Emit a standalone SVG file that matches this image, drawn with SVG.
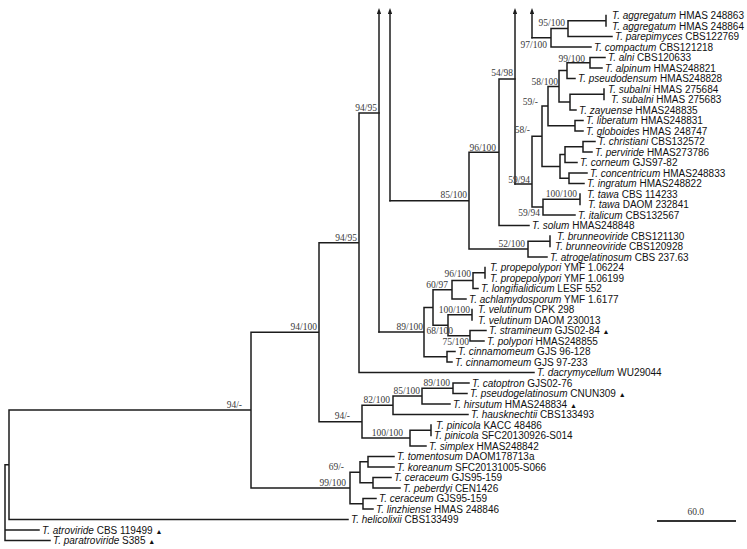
<svg xmlns="http://www.w3.org/2000/svg" width="747" height="549" viewBox="0 0 747 549">
<style>
.br{fill:none;stroke:#1c1c1c;stroke-width:1.5;stroke-linecap:square}
.lf{font-family:"Liberation Sans",Arial,sans-serif;font-size:10px;fill:#111}
.i{font-style:italic}
.tri{font-size:7px}
.bs{font-family:"Liberation Serif","Times New Roman",serif;font-size:9.5px;fill:#3a3a3a;text-anchor:end}
</style>
<defs>
<marker id="arr" viewBox="0 0 6 4.4" refX="2" refY="2.2" markerWidth="6" markerHeight="4.4" markerUnits="userSpaceOnUse" orient="auto">
<path d="M0,0 L6,2.2 L0,4.4 z" fill="#1c1c1c"/>
</marker>
</defs>
<rect width="747" height="549" fill="#fff"/>
<g id="connectors">
<path class="br" d="M5,464.8 V540.5 M5,464.8 H9 M5,530 H39 M5,540.5 H50
M9,410.1 V519.5 M9,410.1 H251 M9,519.5 H348
M251,332.3 V488 M251,332.3 H319 M251,488 H350
M350,472.25 V503.75 M350,472.25 H360 M350,503.75 H363
M360,461.75 V482.75 M360,461.75 H368 M360,482.75 H373
M368,456.5 V467 M368,456.5 H394 M368,467 H394
M373,477.5 V488 M373,477.5 H391 M373,488 H400
M363,498.5 V509 M363,498.5 H376 M363,509 H373
M319,242.75 V421.7 M319,242.75 H359 M319,421.7 H362
M362,405.3 V438.1 M362,405.3 H393 M362,438.1 H410
M393,396.1 V414.5 M393,396.1 H422 M393,414.5 H468
M422,388.25 V404 M422,388.25 H453 M422,404 H450
M453,383 V393.5 M453,383 H469 M453,393.5 H467
M410,430.25 V446 M410,430.25 H431 M431,425 V435.5 M410,446 H426
M359,113 V372.5 M359,113 H379 M359,372.5 H534
M379,332.1 H424
M424,307.5 V356.75 M424,307.5 H433 M424,356.75 H447
M447,351.5 V362 M447,351.5 H455 M447,362 H452
M433,289.8 V325.25 M433,289.8 H452 M433,325.25 H448
M452,280.6 V299 M452,280.6 H473 M452,299 H466
M473,272.75 V288.5 M473,272.75 H485 M485,267.5 V278 M473,288.5 H478
M448,314.75 V335.75 M448,314.75 H472 M472,309.5 V320 M448,335.75 H470
M470,330.5 V341 M470,330.5 H486 M470,341 H484
M390,200.7 H469
M469,152.25 V249.1 M469,152.25 H499 M469,249.1 H528
M528,241.25 V257 M528,241.25 H550 M550,236 V246.5 M528,257 H547
M499,79 V225.5 M499,79 H515 M499,225.5 H529
M515,184 H532
M532,136.25 V207.1 M532,136.25 H542 M532,207.1 H543
M543,199.25 V215 M543,199.25 H580 M580,194 V204.5 M543,215 H575
M542,106.1 V166.4 M542,106.1 H548 M542,166.4 H560
M560,154.6 V178.25 M560,154.6 H565 M560,178.25 H569
M565,146.75 V162.5 M565,146.75 H583 M565,162.5 H577
M583,141.5 V152 M583,141.5 H595 M583,152 H592
M569,173 V183.5 M569,173 H587 M569,183.5 H584
M548,86.4 V125.75 M548,86.4 H559 M548,125.75 H575
M575,120.5 V131 M575,120.5 H583 M575,131 H583
M559,70.6 V102.1 M559,70.6 H567 M559,102.1 H570
M567,62.75 V78.5 M567,62.75 H590 M567,78.5 H575
M590,57.5 V68 M590,57.5 H605 M590,68 H602
M570,94.25 V110 M570,94.25 H604 M604,89 V99.5 M570,110 H576
M532,37.8 H551
M551,28.6 V47 M551,28.6 H568 M551,47 H591
M568,20.75 V36.5 M568,20.75 H606 M606,15.5 V26 M568,36.5 H612"/>
<path class="br" marker-end="url(#arr)" d="M379,332.1 V12"/>
<path class="br" marker-end="url(#arr)" d="M390,200.7 V12"/>
<path class="br" marker-end="url(#arr)" d="M515,184 V12"/>
<path class="br" marker-end="url(#arr)" d="M532,37.8 V12"/>
<path d="M657,521 H736" fill="none" stroke="#333" stroke-width="2"/>
</g>
<g id="support">
<text class="bs" x="565" y="25.5">95/100</text>
<text class="bs" x="547" y="48">97/100</text>
<text class="bs" x="585" y="61.5">99/100</text>
<text class="bs" x="513" y="76">54/98</text>
<text class="bs" x="558" y="84.5">58/100</text>
<text class="bs" x="538" y="104.5">59/-</text>
<text class="bs" x="377" y="111">94/95</text>
<text class="bs" x="530" y="133">58/-</text>
<text class="bs" x="496" y="150.5">96/100</text>
<text class="bs" x="530" y="182.5">59/94</text>
<text class="bs" x="577" y="196.5">100/100</text>
<text class="bs" x="467" y="198">85/100</text>
<text class="bs" x="540" y="216">59/94</text>
<text class="bs" x="357" y="240.5">94/95</text>
<text class="bs" x="525" y="247">52/100</text>
<text class="bs" x="471" y="277">96/100</text>
<text class="bs" x="448" y="287.5">60/97</text>
<text class="bs" x="470" y="312.5">100/100</text>
<text class="bs" x="317" y="329.5">94/100</text>
<text class="bs" x="423" y="329.5">89/100</text>
<text class="bs" x="453" y="334">68/100</text>
<text class="bs" x="469" y="345">75/100</text>
<text class="bs" x="450" y="386">89/100</text>
<text class="bs" x="420" y="394">85/100</text>
<text class="bs" x="390" y="402.5">82/100</text>
<text class="bs" x="242" y="408">94/-</text>
<text class="bs" x="350" y="419">94/-</text>
<text class="bs" x="403" y="436">100/100</text>
<text class="bs" x="344" y="470">69/-</text>
<text class="bs" x="346" y="486">99/100</text>
<text class="bs" x="704" y="515">60.0</text>
</g>
<g id="leaf-01"><text class="lf" x="612" y="19"><tspan class="i">T. aggregatum</tspan> HMAS 248863</text></g>
<g id="leaf-02"><text class="lf" x="612" y="29.5"><tspan class="i">T. aggregatum</tspan> HMAS 248864</text></g>
<g id="leaf-03"><text class="lf" x="615" y="40"><tspan class="i">T. parepimyces</tspan> CBS122769</text></g>
<g id="leaf-04"><text class="lf" x="594" y="50.5"><tspan class="i">T. compactum</tspan> CBS121218</text></g>
<g id="leaf-05"><text class="lf" x="608" y="61"><tspan class="i">T. alni</tspan> CBS120633</text></g>
<g id="leaf-06"><text class="lf" x="605" y="71.5"><tspan class="i">T. alpinum</tspan> HMAS248821</text></g>
<g id="leaf-07"><text class="lf" x="578" y="82"><tspan class="i">T. pseudodensum</tspan> HMAS248828</text></g>
<g id="leaf-08"><text class="lf" x="608" y="92.5"><tspan class="i">T. subalni</tspan> HMAS 275684</text></g>
<g id="leaf-09"><text class="lf" x="611" y="103"><tspan class="i">T. subalni</tspan> HMAS 275683</text></g>
<g id="leaf-10"><text class="lf" x="579" y="113.5"><tspan class="i">T. zayuense</tspan> HMAS248835</text></g>
<g id="leaf-11"><text class="lf" x="586" y="124"><tspan class="i">T. liberatum</tspan> HMAS248831</text></g>
<g id="leaf-12"><text class="lf" x="586" y="134.5"><tspan class="i">T. globoides</tspan> HMAS 248747</text></g>
<g id="leaf-13"><text class="lf" x="598" y="145"><tspan class="i">T. christiani</tspan> CBS132572</text></g>
<g id="leaf-14"><text class="lf" x="595" y="155.5"><tspan class="i">T. perviride</tspan> HMAS273786</text></g>
<g id="leaf-15"><text class="lf" x="580" y="166"><tspan class="i">T. corneum</tspan> GJS97-82</text></g>
<g id="leaf-16"><text class="lf" x="590" y="176.5"><tspan class="i">T. concentricum</tspan> HMAS248833</text></g>
<g id="leaf-17"><text class="lf" x="587" y="187"><tspan class="i">T. ingratum</tspan> HMAS248822</text></g>
<g id="leaf-18"><text class="lf" x="587" y="197.5"><tspan class="i">T. tawa</tspan> CBS 114233</text></g>
<g id="leaf-19"><text class="lf" x="588" y="208"><tspan class="i">T. tawa</tspan> DAOM 232841</text></g>
<g id="leaf-20"><text class="lf" x="578" y="218.5"><tspan class="i">T. italicum</tspan> CBS132567</text></g>
<g id="leaf-21"><text class="lf" x="532" y="229"><tspan class="i">T. solum</tspan> HMAS248848</text></g>
<g id="leaf-22"><text class="lf" x="557" y="239.5"><tspan class="i">T. brunneoviride</tspan> CBS121130</text></g>
<g id="leaf-23"><text class="lf" x="555" y="250"><tspan class="i">T. brunneoviride</tspan> CBS120928</text></g>
<g id="leaf-24"><text class="lf" x="550" y="260.5"><tspan class="i">T. atrogelatinosum</tspan> CBS 237.63</text></g>
<g id="leaf-25"><text class="lf" x="490" y="271"><tspan class="i">T. propepolypori</tspan> YMF 1.06224</text></g>
<g id="leaf-26"><text class="lf" x="490" y="281.5"><tspan class="i">T. propepolypori</tspan> YMF 1.06199</text></g>
<g id="leaf-27"><text class="lf" x="481" y="292"><tspan class="i">T. longifialidicum</tspan> LESF 552</text></g>
<g id="leaf-28"><text class="lf" x="469" y="302.5"><tspan class="i">T. achlamydosporum</tspan> YMF 1.6177</text></g>
<g id="leaf-29"><text class="lf" x="478" y="313"><tspan class="i">T. velutinum</tspan> CPK 298</text></g>
<g id="leaf-30"><text class="lf" x="478" y="323.5"><tspan class="i">T. velutinum</tspan> DAOM 230013</text></g>
<g id="leaf-31"><text class="lf" x="489" y="334"><tspan class="i">T. stramineum</tspan> GJS02-84 <tspan class="tri">▲</tspan></text></g>
<g id="leaf-32"><text class="lf" x="487" y="344.5"><tspan class="i">T. polypori</tspan> HMAS248855</text></g>
<g id="leaf-33"><text class="lf" x="458" y="355"><tspan class="i">T. cinnamomeum</tspan> GJS 96-128</text></g>
<g id="leaf-34"><text class="lf" x="455" y="365.5"><tspan class="i">T. cinnamomeum</tspan> GJS 97-233</text></g>
<g id="leaf-35"><text class="lf" x="537" y="376"><tspan class="i">T. dacrymycellum</tspan> WU29044</text></g>
<g id="leaf-36"><text class="lf" x="472" y="386.5"><tspan class="i">T. catoptron</tspan> GJS02-76</text></g>
<g id="leaf-37"><text class="lf" x="470" y="397"><tspan class="i">T. pseudogelatinosum</tspan> CNUN309 <tspan class="tri">▲</tspan></text></g>
<g id="leaf-38"><text class="lf" x="453" y="407.5"><tspan class="i">T. hirsutum</tspan> HMAS248834 <tspan class="tri">▲</tspan></text></g>
<g id="leaf-39"><text class="lf" x="471" y="418"><tspan class="i">T. hausknechtii</tspan> CBS133493</text></g>
<g id="leaf-40"><text class="lf" x="436" y="428.5"><tspan class="i">T. pinicola</tspan> KACC 48486</text></g>
<g id="leaf-41"><text class="lf" x="434" y="439"><tspan class="i">T. pinicola</tspan> SFC20130926-S014</text></g>
<g id="leaf-42"><text class="lf" x="429" y="449.5"><tspan class="i">T. simplex</tspan> HMAS248842</text></g>
<g id="leaf-43"><text class="lf" x="397" y="460"><tspan class="i">T. tomentosum</tspan> DAOM178713a</text></g>
<g id="leaf-44"><text class="lf" x="397" y="470.5"><tspan class="i">T. koreanum</tspan> SFC20131005-S066</text></g>
<g id="leaf-45"><text class="lf" x="394" y="481"><tspan class="i">T. ceraceum</tspan> GJS95-159</text></g>
<g id="leaf-46"><text class="lf" x="403" y="491.5"><tspan class="i">T. peberdyi</tspan> CEN1426</text></g>
<g id="leaf-47"><text class="lf" x="379" y="502"><tspan class="i">T. ceraceum</tspan> GJS95-159</text></g>
<g id="leaf-48"><text class="lf" x="376" y="512.5"><tspan class="i">T. linzhiense</tspan> HMAS 248846</text></g>
<g id="leaf-49"><text class="lf" x="351" y="523"><tspan class="i">T. helicolixii</tspan> CBS133499</text></g>
<g id="leaf-50"><text class="lf" x="42" y="533.5"><tspan class="i">T. atroviride</tspan> CBS 119499 <tspan class="tri">▲</tspan></text></g>
<g id="leaf-51"><text class="lf" x="53" y="544"><tspan class="i">T. paratroviride</tspan> S385 <tspan class="tri">▲</tspan></text></g>
</svg>
